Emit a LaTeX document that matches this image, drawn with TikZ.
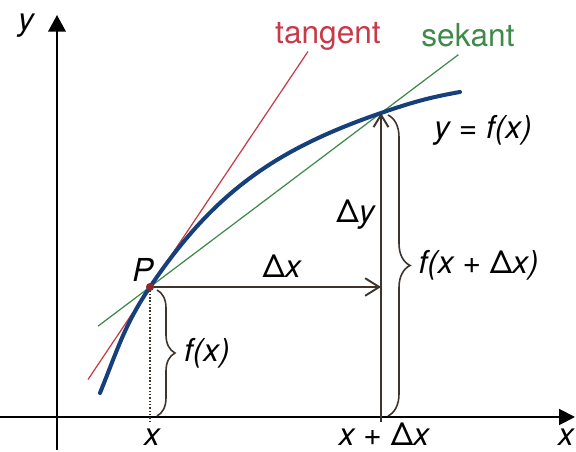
\documentclass[tikz,border=0pt]{standalone}
\usepackage{fontspec}
\setmainfont{TeX Gyre Heros}
\usetikzlibrary{arrows.meta, calc, decorations.pathreplacing}
\definecolor{kurve}{RGB}{22,64,124}
\definecolor{tanrot}{RGB}{200,58,72}
\definecolor{sekgruen}{RGB}{62,138,72}
\definecolor{pfeil}{RGB}{62,52,44}
\newcommand{\gross}{\fontsize{18}{20}\selectfont}

\begin{document}
\begin{tikzpicture}[>=Stealth,
  lbl/.style={font=\gross\itshape,inner sep=1pt},
  klammer/.style={decorate,decoration={brace,amplitude=#1},line width=0.9pt,pfeil}]
  \useasboundingbox (0,0) rectangle (11.52,9.04);
  % P=(3.00,3.30), Q=(7.62,6.78), x-axis at y=0.70
  \coordinate (P) at (3.00,3.30);
  \coordinate (Q) at (7.62,6.78);
  \coordinate (Px) at (3.00,0.70);
  \coordinate (Qx) at (7.62,0.70);
  \coordinate (PQ) at (Q |- P);
  % axes
  \draw[line width=1.1pt,-{Triangle[length=9pt,width=9pt]}](0,0.70)--(11.50,0.70);
  \draw[line width=1.1pt,-{Triangle[length=9.5pt,width=10pt]}](1.14,0.04)--(1.14,8.74);
  \node[lbl] (ylab) at (0.52,8.52){y};
  \node[lbl] (xlab) at (11.32,0.30){x};
  % tangent and secant
  \draw[tanrot,line width=0.7pt]($(P)+(-1.24,-1.85)$)--($(P)+(3.16,4.71)$);
  \draw[sekgruen,line width=0.7pt]($(P)!-0.225!(Q)$)--($(P)!1.335!(Q)$);
  \node[font=\gross,text=tanrot] (tlab) at (6.56,8.32){tangent};
  \node[font=\gross,text=sekgruen] (slab) at (9.36,8.34){sekant};
  % graph of f
  \draw[kurve,line width=2.3pt,line cap=round](2.00,1.18) to[out=68,in=236] (P)
    to[out=56,in=199] (Q) to[out=19,in=190] (9.20,7.20);
  \node[lbl] (flab) at (9.66,6.44){y = f(x)};
  % increments
  \draw[pfeil,densely dotted,line width=0.9pt](P)--($(Px)+(0,-0.10)$);
  \draw[pfeil,line width=1.1pt,-{Straight Barb[length=8pt,width=10pt]}](P)--(PQ)
    node[lbl,pos=0.57,above=4pt,text=black]{{\upshape Δ}x};
  \draw[pfeil,line width=1.1pt,-{Straight Barb[length=7pt,width=8.5pt]}]($(Qx)+(0,-0.10)$)--(Q)
    node[lbl,pos=0.67,left=2pt,text=black]{{\upshape Δ}y};
  \fill[fill={rgb,255:red,140;green,40;blue,50}](P) circle (2.3pt);
  \node[lbl] (plab) at (2.86,3.64){P};
  % braces
  \draw[klammer=0.36cm]($(P)+(0.14,-0.06)$)--($(Px)+(0.14,0.02)$)
    node[lbl,midway,right=14pt,text=black]{f(x)};
  \draw[klammer=0.44cm](7.76,6.74)--(7.76,0.72)
    node[lbl,midway,right=16pt,text=black]{f(x + {\upshape Δ}x)};
  % ticks
  \node[lbl] (xt) at (3.04,0.30){x};
  \node[lbl] (xdt) at (7.68,0.36){x + {\upshape Δ}x};
\end{tikzpicture}
\end{document}
